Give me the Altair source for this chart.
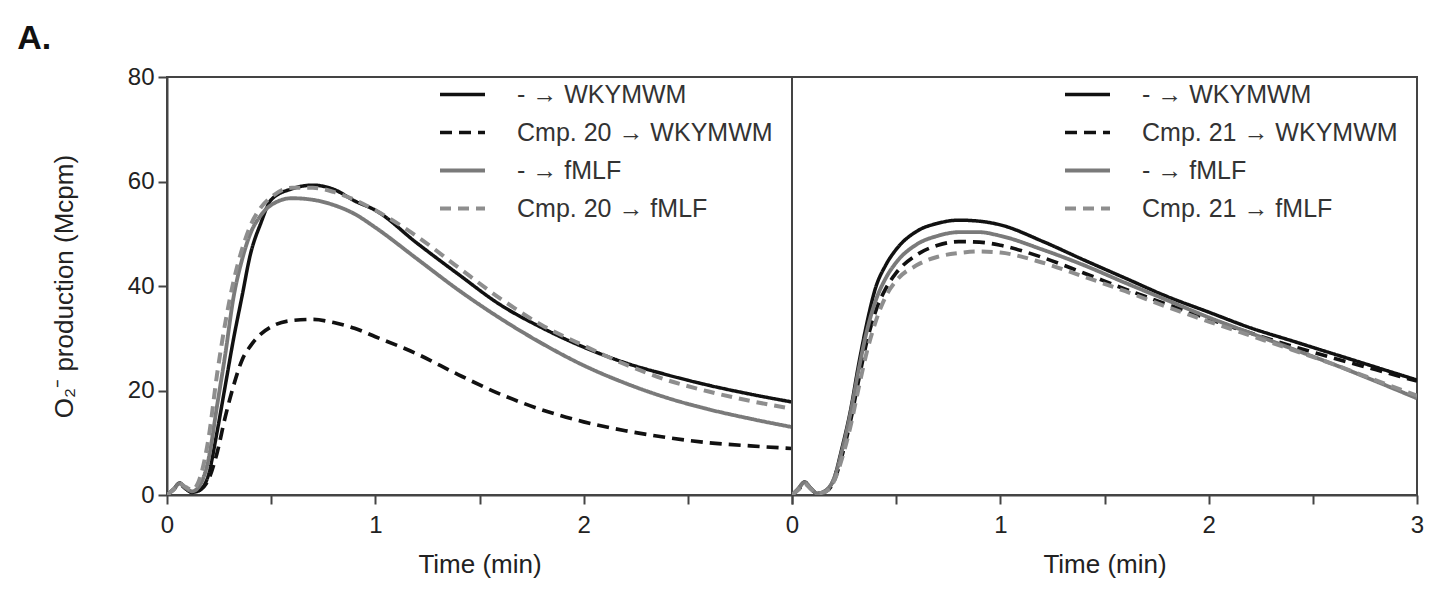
import altair as alt
import pandas as pd

# ---- data ----
T = [0, 0.03, 0.06, 0.09, 0.12, 0.16, 0.2, 0.24, 0.28, 0.32, 0.36, 0.4, 0.45, 0.5,
     0.6, 0.7, 0.8, 0.9, 1.0, 1.2, 1.4, 1.6, 1.8, 2.0, 2.2, 2.4, 2.6, 2.8, 3.0]

# Left panel (Cmp. 20)
L_WKY = [0, 1.0, 2.3, 1.2, 0.5, 1.0, 4, 12, 21, 30, 38, 46, 52, 56.5,
         58.6, 59.3, 58.5, 56.3, 54.5, 48.2, 42.2, 36.4, 32.0, 28.3, 25.3, 23.0, 21.0, 19.3, 17.8]
L_CMP_WKY = [0, 1.0, 2.0, 1.2, 0.5, 1.0, 3, 8, 15, 21, 25.8, 28.5, 30.8, 32.2,
             33.4, 33.6, 33.0, 31.9, 30.3, 27.0, 23.0, 19.3, 16.3, 14.0, 12.3, 11.0, 10.0, 9.4, 8.9]
L_FMLF = [0, 1.0, 2.2, 1.3, 0.7, 2.0, 7, 17, 27, 38, 45, 50, 53.5, 55.5,
          56.8, 56.5, 55.5, 53.8, 51.2, 45.2, 39.2, 33.8, 29.0, 24.8, 21.4, 18.6, 16.4, 14.6, 13.0]
L_CMP_FMLF = [0, 1.0, 2.2, 1.5, 1.0, 3.5, 11, 23, 33, 41, 47, 51.5, 55, 57,
              58.8, 58.8, 58.0, 56.5, 54.5, 49.5, 43.5, 37.6, 32.5, 28.6, 25.0, 22.0, 19.8, 18.0, 16.5]

# Right panel (Cmp. 21)
R_WKY = [0, 1.2, 2.5, 1.3, 0.3, 0.8, 3, 9, 16, 25, 33, 39.5, 44, 47,
         50.5, 52.0, 52.6, 52.4, 51.7, 48.6, 45.0, 41.5, 38.0, 35.0, 32.0, 29.5, 27.0, 24.5, 22.0]
R_CMP_WKY = [0, 1.0, 2.2, 1.2, 0.3, 0.6, 2.5, 7.5, 14, 22, 29.5, 35, 39.5, 42.5,
             46.0, 47.8, 48.5, 48.4, 47.8, 45.5, 42.5, 39.4, 36.5, 33.7, 31.0, 28.5, 26.2, 24.0, 21.8]
R_FMLF = [0, 1.2, 2.4, 1.3, 0.3, 0.8, 3, 8.5, 15.5, 24, 31.5, 37, 41.5, 44.5,
          48.0, 49.6, 50.3, 50.3, 49.6, 47.0, 44.0, 40.6, 37.3, 34.0, 31.0, 28.0, 25.0, 21.8, 18.5]
R_CMP_FMLF = [0, 1.0, 2.2, 1.2, 0.3, 0.6, 2.5, 7, 13, 20.5, 27.5, 33, 38, 41,
              44.0, 45.6, 46.3, 46.6, 46.4, 44.5, 41.8, 39.0, 36.0, 33.2, 30.5, 27.8, 25.0, 22.0, 19.0]

NB = "\u00a0"
LEFT_LABELS = [NB + "- → WKYMWM", "Cmp. 20 → WKYMWM", NB + "- → fMLF", "Cmp. 20 → fMLF"]
RIGHT_LABELS = [NB + "- → WKYMWM", "Cmp. 21 → WKYMWM", NB + "- → fMLF", "Cmp. 21 → fMLF"]

COLORS = ["#111111", "#111111", "#7a7a7a", "#8e8e8e"]
DASHES = [[1, 0], [12, 7], [1, 0], [11, 7]]
WIDTHS = [3.5, 4, 2.2, 3]

FONT = "Liberation Sans"
PANEL_W = 625
PANEL_H = 418


def make_df(labels, series):
    rows = []
    for lab, vals in zip(labels, series):
        for t, v in zip(T, vals):
            rows.append({"series": lab, "t": t, "v": v})
    return pd.DataFrame(rows)


def x_axis(last_label):
    cond = "datum.value % 1 == 0" + ("" if last_label else " && datum.value < 3")
    return alt.Axis(title="Time (min)", values=[0, 0.5, 1, 1.5, 2, 2.5, 3],
                    labelExpr="(" + cond + ") ? format(datum.value, 'd') : ''",
                    grid=False, tickSize=9, tickWidth=2, tickColor="#444",
                    domainColor="#444", domainWidth=2,
                    labelFontSize=24, labelFont=FONT, labelColor="#222",
                    labelPadding=9, titleFontSize=26, titleFont=FONT,
                    titleFontWeight="normal", titleColor="#222", titlePadding=14,
                    labelFlush=False)


def panel(labels, series, first):
    df = make_df(labels, series)
    leg = alt.Legend(title=None, orient="none", legendX=271, legendY=-7,
                     labelFontSize=25, labelFont=FONT, labelColor="#333",
                     symbolType="stroke", symbolSize=2025, rowPadding=-3,
                     labelOffset=30, labelLimit=0, padding=0)
    if first:
        yaxis = alt.Axis(title="O₂⁻ production (Mcpm)", values=[0, 20, 40, 60, 80],
                         grid=False, tickSize=9, tickWidth=2, tickColor="#444",
                         domainColor="#444", domainWidth=2,
                         labelFontSize=24, labelFont=FONT, labelColor="#222",
                         labelPadding=4, titleFontSize=26, titleFont=FONT,
                         titleFontWeight="normal", titleColor="#222", titlePadding=50)
    else:
        yaxis = None
    return alt.Chart(df).mark_line(interpolate="monotone", clip=True).encode(
        x=alt.X("t:Q", scale=alt.Scale(domain=[0, 3], nice=False), axis=x_axis(not first)),
        y=alt.Y("v:Q", scale=alt.Scale(domain=[0, 80], nice=False), axis=yaxis),
        color=alt.Color("series:N", scale=alt.Scale(domain=labels, range=COLORS), legend=leg),
        strokeDash=alt.StrokeDash("series:N", scale=alt.Scale(domain=labels, range=DASHES), legend=leg),
        strokeWidth=alt.StrokeWidth("series:N", scale=alt.Scale(domain=labels, range=WIDTHS), legend=leg),
        order=alt.Order("t:Q"),
    ).properties(width=PANEL_W, height=PANEL_H)


left = panel(LEFT_LABELS, [L_WKY, L_CMP_WKY, L_FMLF, L_CMP_FMLF], True)
right = panel(RIGHT_LABELS, [R_WKY, R_CMP_WKY, R_FMLF, R_CMP_FMLF], False)

chart = alt.hconcat(left, right, spacing=0, bounds="flush").resolve_scale(
    color="independent", strokeDash="independent", strokeWidth="independent"
).resolve_legend(
    color="independent", strokeDash="independent", strokeWidth="independent"
).properties(
    title=alt.TitleParams("A.", anchor="start", fontSize=34, fontWeight="bold",
                          font=FONT, color="#111", dx=-33, offset=8),
    padding={"left": 9, "top": 14, "right": 0, "bottom": 0},
).configure_view(stroke="#444", strokeWidth=2)

chart.save("out.html", embed_options={"renderer": "svg", "actions": False})
